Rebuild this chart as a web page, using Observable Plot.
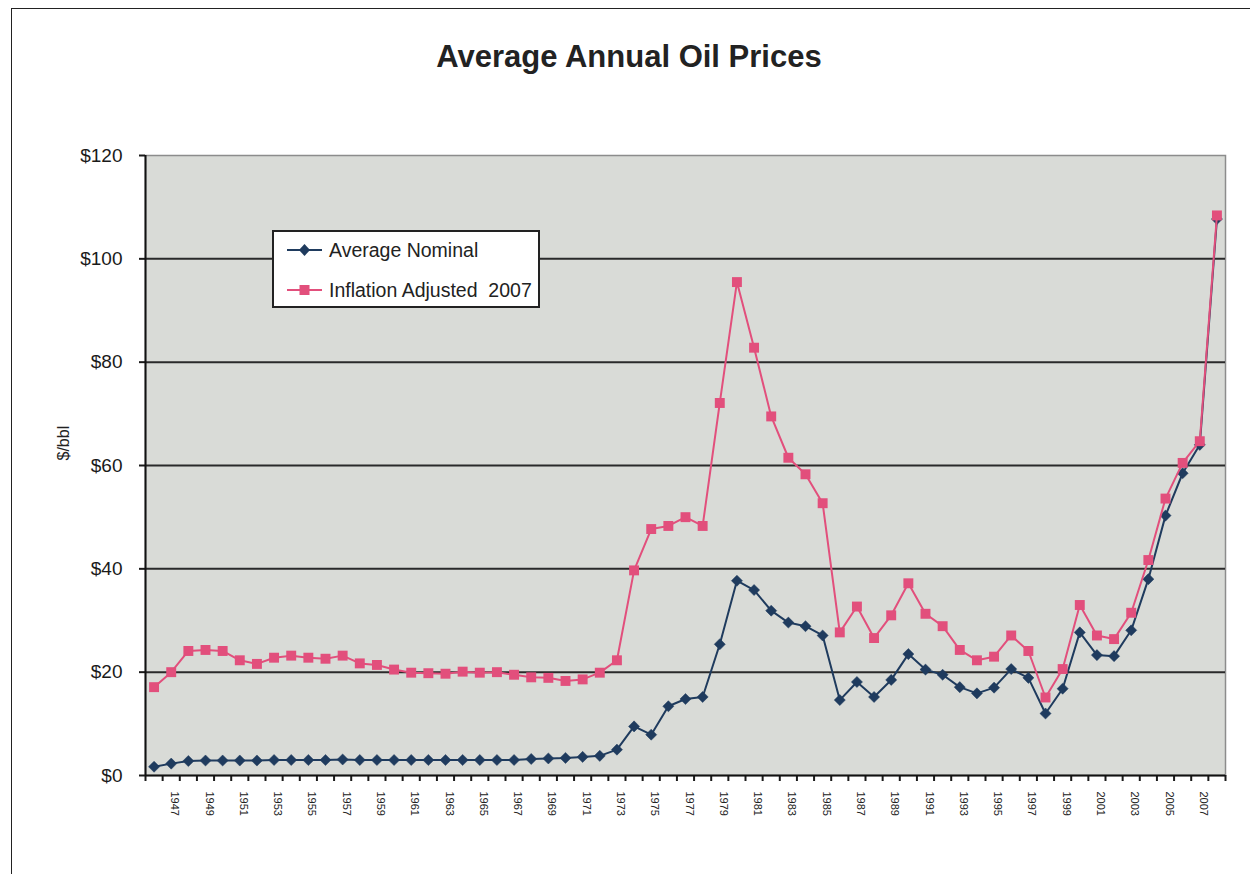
<!DOCTYPE html>
<html>
<head>
<meta charset="utf-8">
<script src="https://cdn.jsdelivr.net/npm/d3@7"></script>
<script src="https://cdn.jsdelivr.net/npm/@observablehq/plot@0.6"></script>
<style>
  html, body { margin: 0; padding: 0; background: #fff; }
  body { width: 1250px; height: 874px; overflow: hidden; position: relative;
         font-family: "Liberation Sans", Arial, sans-serif; color: #222; }
  #frame { position: absolute; left: 11px; top: 8px; width: 1300px; height: 900px;
           border: 1.5px solid #222; box-sizing: border-box; }
  #title { position: absolute; left: 8px; top: 41px; width: 1242px; text-align: center;
           font-size: 31px; line-height: 31px; font-weight: bold; color: #222; }
  #chart { position: absolute; left: 0; top: 100px; }
  #legend { position: absolute; left: 272px; top: 230px; width: 264px; height: 74px;
            background: #fff; border: 2px solid #222; }
  .row { position: absolute; left: 13px; height: 24px; display: flex; align-items: center;
         font-size: 19.5px; color: #222; white-space: pre; }
  .row svg { margin-right: 6px; }
</style>
</head>
<body>
<div id="frame"></div>
<div id="title">Average Annual Oil Prices</div>
<div id="chart"></div>
<div id="legend"></div>
<script>
// ---- data ----
const years = d3.range(1946, 2009);
const nominal = [
  1.7, 2.3, 2.8, 2.9, 2.9, 2.9, 2.9, 3.0, 3.0, 3.0,
  3.0, 3.1, 3.0, 3.0, 3.0, 3.0, 3.0, 3.0, 3.0, 3.0,
  3.0, 3.0, 3.2, 3.3, 3.4, 3.6, 3.8, 5.0, 9.5, 7.9,
  13.4, 14.8, 15.2, 25.4, 37.7, 35.9, 31.9, 29.6, 28.9, 27.1,
  14.6, 18.1, 15.2, 18.5, 23.5, 20.5, 19.5, 17.1, 15.9, 17.0,
  20.6, 18.9, 12.0, 16.8, 27.7, 23.3, 23.1, 28.1, 38.0, 50.3,
  58.5, 64.0, 107.7
];
const adjusted = [
  17.1, 20.0, 24.1, 24.3, 24.1, 22.3, 21.6, 22.8, 23.2, 22.8,
  22.6, 23.2, 21.7, 21.4, 20.5, 19.9, 19.8, 19.7, 20.1, 19.9,
  20.0, 19.5, 19.0, 18.9, 18.3, 18.6, 19.9, 22.3, 39.7, 47.7,
  48.3, 50.0, 48.3, 72.1, 95.5, 82.8, 69.5, 61.5, 58.3, 52.7,
  27.7, 32.7, 26.6, 31.0, 37.2, 31.3, 28.9, 24.3, 22.3, 23.0,
  27.1, 24.1, 15.1, 20.6, 33.0, 27.1, 26.4, 31.5, 41.7, 53.6,
  60.5, 64.7, 108.4
];
const seriesNames = ["Average Nominal", "Inflation Adjusted  2007"];
const yTicks = [0, 20, 40, 60, 80, 100, 120];
const gridValues = [20, 40, 60, 80, 100];
const labelYears = d3.range(1947, 2009, 2);
const tickPositions = d3.range(1945.5, 2009, 1);
const yAxisLabel = "$/bbl";

// ---- styles ----
const navy = "#1f3b5e";
const pink = "#e24f7c";
const plotBg = "#d9dbd7";

const rows = years.map((y, i) => ({year: y, nominal: nominal[i], adjusted: adjusted[i]}));

const chart = Plot.plot({
  width: 1250,
  height: 774,
  marginTop: 55,
  marginLeft: 145,
  marginRight: 25,
  marginBottom: 99,
  x: {domain: [1945.5, 2008.5]},
  y: {domain: [0, 120]},
  style: {fontFamily: "'Liberation Sans', Arial, sans-serif", background: "transparent", color: "#1a1a1a", overflow: "visible"},
  marks: [
    Plot.frame({fill: plotBg, stroke: "#8c8c8c", strokeWidth: 1.5}),
    Plot.gridY(gridValues, {stroke: "#2a2a2a", strokeOpacity: 1, strokeWidth: 2}),
    Plot.axisY(yTicks, {tickSize: 6, tickPadding: 17, tickFormat: d => "$" + d, fontSize: 19, label: null, strokeWidth: 2}),
    Plot.axisX(tickPositions, {tickSize: 6, tickFormat: () => "", label: null, strokeWidth: 2}),
    Plot.text(labelYears, {x: d => d, text: d => String(d), frameAnchor: "bottom", dy: 16, rotate: 90, textAnchor: "start", fontSize: 11, fill: "#222"}),
    Plot.text([yAxisLabel], {text: d => d, frameAnchor: "left", dx: -82, dy: -5, rotate: -90, fontSize: 16, fill: "#222"}),
    Plot.ruleX([1945.5], {stroke: "#111", strokeWidth: 2}),
    Plot.ruleY([0], {stroke: "#111", strokeWidth: 2}),
    Plot.line(rows, {x: "year", y: "nominal", stroke: navy, strokeWidth: 2}),
    Plot.dot(rows, {x: "year", y: "nominal", symbol: "diamond2", r: 5, fill: navy, stroke: navy, strokeWidth: 0.5}),
    Plot.line(rows, {x: "year", y: "adjusted", stroke: pink, strokeWidth: 2}),
    Plot.dot(rows, {x: "year", y: "adjusted", symbol: "square", r: 5.6, fill: pink})
  ]
});
document.getElementById("chart").appendChild(chart);

// ---- legend ----
const legend = document.getElementById("legend");
const items = [
  {name: seriesNames[0], color: navy, shape: "diamond"},
  {name: seriesNames[1], color: pink, shape: "square"}
];
items.forEach((it, i) => {
  const row = document.createElement("div");
  row.className = "row";
  row.style.top = (6 + i * 40) + "px";
  const marker = it.shape === "diamond"
    ? `<polygon points="17.5,6 23,12 17.5,18 12,12" fill="${it.color}"/>`
    : `<rect x="12.5" y="7" width="10" height="10" fill="${it.color}"/>`;
  row.innerHTML = `<svg width="36" height="24"><line x1="0" y1="12" x2="35" y2="12" stroke="${it.color}" stroke-width="2"/>${marker}</svg>`;
  const span = document.createElement("span");
  span.textContent = it.name;
  row.appendChild(span);
  legend.appendChild(row);
});
</script>
</body>
</html>
